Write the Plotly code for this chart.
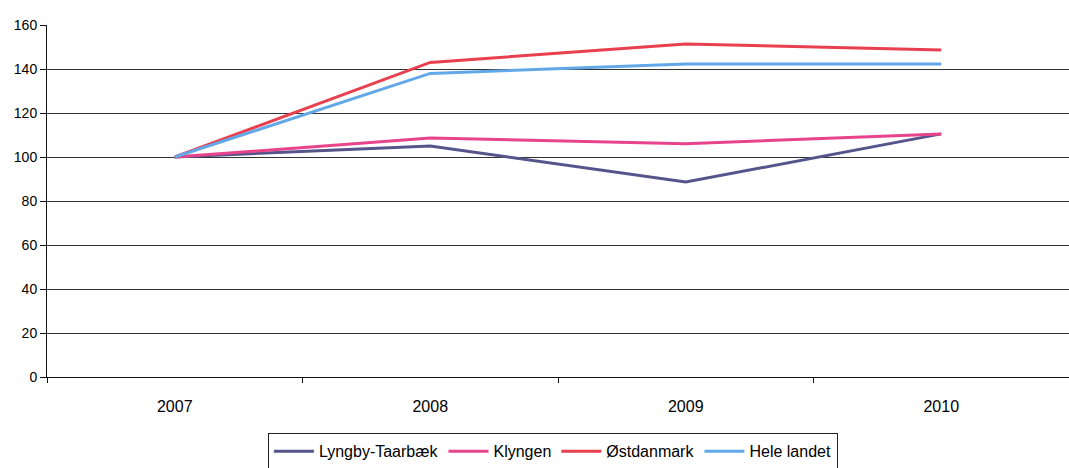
import plotly.graph_objects as go

years = ["2007", "2008", "2009", "2010"]
lyngby = [100, 105, 88.6, 110.5]
klyngen = [100, 108.6, 106, 110.5]
ostdanmark = [100, 143, 151.4, 148.6]
hele_landet = [100, 138, 142.3, 142.3]
y_ticks = [0, 20, 40, 60, 80, 100, 120, 140, 160]

series = [
    ("Lyngby-Taarbæk", lyngby, "#55558C"),
    ("Klyngen", klyngen, "#E8448C"),
    ("Østdanmark", ostdanmark, "#E8404E"),
    ("Hele landet", hele_landet, "#62A8E8"),
]

fig = go.Figure()
for name, vals, col in series:
    fig.add_trace(go.Scatter(x=years, y=vals, name=name, mode="lines",
                             line=dict(color=col, width=3)))

fig.update_layout(
    width=1069, height=468,
    margin=dict(l=47, r=0, t=25, b=91, autoexpand=False),
    plot_bgcolor="white", paper_bgcolor="white",
    font=dict(family="Liberation Sans, Arial, sans-serif", size=14, color="#000"),
    showlegend=True,
    legend=dict(orientation="h", x=0.495, xanchor="center", y=-0.16, yanchor="top",
                bordercolor="#222", borderwidth=1, font=dict(size=16),
                itemwidth=40, tracegroupgap=0),
    xaxis=dict(type="category", range=[-0.5, 3.5], showgrid=False,
               showline=True, linecolor="#111", linewidth=1,
               ticks="outside", tickson="boundaries", ticklen=5, tickcolor="#111",
               ticklabelstandoff=15, tickfont=dict(size=16)),
    yaxis=dict(range=[0, 160], tickvals=y_ticks, showgrid=True, gridcolor="#333",
               gridwidth=1, showline=True, linecolor="#111", linewidth=1,
               ticks="outside", ticklen=6, tickcolor="#111", zeroline=False,
               tickfont=dict(size=14)),
)

fig.write_html("out.html")
